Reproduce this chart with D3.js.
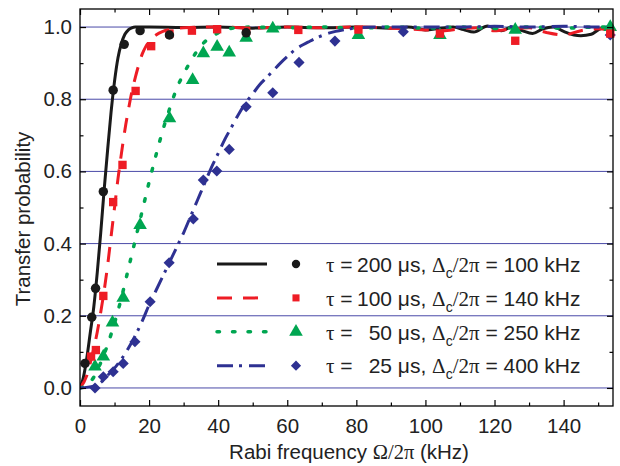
<!DOCTYPE html>
<html><head><meta charset="utf-8">
<script src="https://cdn.jsdelivr.net/npm/d3@7"></script>
<style>
body{margin:0;background:#fff;}
svg{display:block;font-family:"Liberation Sans",Arial,sans-serif;}
</style></head>
<body><svg id="c" width="620" height="466"></svg>
<script>
// ---- data ----
const xTicks = [0,20,40,60,80,100,120,140];
const xMinor = [10,30,50,70,90,110,130,150];
const yTicks = [0,0.2,0.4,0.6,0.8,1.0];
const yMinor = [0.1,0.3,0.5,0.7,0.9];

// measured points
const ptsX200 = [1.45,3.4,4.5,6.75,9.6,12.8,17.4,25.9,48.1];
const ptsY200 = [0.068,0.196,0.276,0.544,0.825,0.952,0.99,0.978,0.984];
const ptsX100 = [3.2,4.6,6.75,9.6,12.3,16.1,20.6,25.9,32.4,39.7,48.1,63.2,80.6,104.2,126,153.5];
const ptsY100 = [0.087,0.105,0.255,0.515,0.618,0.823,0.947,0.982,0.99,0.994,0.99,0.992,0.993,0.982,0.962,0.982];
const ptsX50 = [4.35,6.75,9.4,12.5,17.4,25.9,32.6,35.7,39.7,43.2,48.1,55.8,80.6,104.2,126,153.5];
const ptsY50 = [0.059,0.087,0.181,0.25,0.451,0.747,0.853,0.927,0.945,0.929,0.97,0.996,0.978,0.978,0.992,1.0];
const ptsX25 = [4.35,6.75,9.6,12.5,15.9,20.3,25.8,32.8,35.7,39.6,43.2,48.1,55.8,63.4,73.8,93.6,153.5];
const ptsY25 = [0.0,0.031,0.045,0.068,0.128,0.239,0.347,0.468,0.576,0.601,0.661,0.779,0.818,0.902,0.961,0.987,0.978];

// theory curves
const curveX200 = [0,1,2,3,4,5,6,7,8,9,10,11,12,13,14,15,16,20,30,40,50,60,70,80,90,95,100,104,108,111,114,118,122,125,128,131,134,137,140,143,145,148,151,154.3];
const curveY200 = [0,0.03,0.085,0.155,0.225,0.32,0.43,0.55,0.66,0.765,0.85,0.915,0.955,0.98,0.992,0.998,1.0,1.0,0.999,1.0,0.997,1.0,0.998,1.0,0.997,1.0,0.992,0.996,1.0,0.993,0.986,1.003,0.99,1.0,0.99,0.982,0.995,1.0,0.988,0.978,0.976,0.98,0.996,0.99];
const curveX100 = [0,2,3,4,5,6,7,8,9,10,11,12,13,14,15,16,17,18,19,20,22,24,26,30,35,40,50,60,70,80,90,100,105,110,115,120,125,130,135,140,145,150,154.3];
const curveY100 = [0,0.035,0.07,0.11,0.155,0.21,0.27,0.34,0.42,0.5,0.58,0.65,0.715,0.77,0.82,0.86,0.895,0.925,0.945,0.96,0.978,0.988,0.993,0.998,1.0,1.0,0.998,1.0,0.998,1.0,0.997,0.992,0.99,0.995,0.998,0.99,0.995,0.998,0.985,0.978,0.99,0.995,0.99];
const curveX50 = [0,2,4,6,8,10,12,14,16,18,20,22,24,26,28,30,32,34,36,38,40,42,45,50,60,70,80,90,100,110,120,130,140,150,154.3];
const curveY50 = [0,0.008,0.03,0.07,0.12,0.18,0.25,0.33,0.41,0.49,0.57,0.645,0.715,0.775,0.83,0.87,0.905,0.935,0.958,0.973,0.984,0.992,0.998,1.0,0.998,1.0,0.997,1.0,0.997,1.0,0.996,1.0,0.997,1.0,1.0];
const curveX25 = [0,4,6,8,10,12,14,16,18,20,22,24,26,28,30,32,34,36,38,40,42,44,46,48,50,52,54,56,58,60,62,64,66,68,70,72,74,76,80,85,90,100,110,120,130,140,150,154.3];
const curveY25 = [0,0.005,0.015,0.035,0.055,0.08,0.11,0.145,0.185,0.23,0.27,0.31,0.35,0.39,0.43,0.475,0.52,0.565,0.61,0.65,0.69,0.725,0.76,0.79,0.815,0.84,0.86,0.88,0.9,0.918,0.935,0.948,0.958,0.968,0.976,0.983,0.988,0.992,0.997,1.0,1.0,1.0,1.0,1.002,1.0,1.002,1.0,1.0];

const legendTau = ["200","100","50","25"];
const legendDelta = ["100","140","250","400"];

// ---- drawing ----
const svg = d3.select("#c");
const L = 80, R = 613, T = 9, B = 406;
const x = d3.scaleLinear().domain([0,154.3]).range([L,R]);
const y = d3.scaleLinear().domain([-0.05,1.05]).range([B,T]);

const colors = ["#1a1a1a","#ee1c25","#00a651","#2e3192"];
const dashes = [null,"15,11","2.5,13","16,6,3,7"];
const widths = [3,3,3.5,3];
const shapes = [d3.symbolCircle,d3.symbolSquare,d3.symbolTriangle,d3.symbolSquare];
const rots = [0,0,0,45];
const sizes = [70,70,80,62];

// gridlines
svg.append("g").selectAll("line").data(yTicks).join("line")
  .attr("x1",L).attr("x2",R).attr("y1",d=>y(d)).attr("y2",d=>y(d))
  .attr("stroke","#4a4aa8").attr("stroke-width",1);

svg.append("clipPath").attr("id","clip").append("rect")
  .attr("x",L).attr("y",T).attr("width",R-L).attr("height",B-T);

const curves = [[curveX200,curveY200],[curveX100,curveY100],[curveX50,curveY50],[curveX25,curveY25]];
const line = d3.line().x(d=>x(d[0])).y(d=>y(d[1])).curve(d3.curveMonotoneX);
const gC = svg.append("g").attr("clip-path","url(#clip)");
curves.forEach((c,i)=>{
  const data = c[0].map((v,k)=>[v,c[1][k]]);
  gC.append("path").datum(data).attr("d",line).attr("fill","none")
    .attr("stroke",colors[i]).attr("stroke-width",widths[i])
    .attr("stroke-dasharray",dashes[i]).attr("stroke-linecap",i===2?"round":"butt");
});

const pts = [[ptsX200,ptsY200],[ptsX100,ptsY100],[ptsX50,ptsY50],[ptsX25,ptsY25]];
const drawOrder = [3,2,1,0];
drawOrder.forEach(i=>{
  const p = pts[i];
  const data = p[0].map((v,k)=>[v,p[1][k]]);
  svg.append("g").selectAll("path").data(data).join("path")
    .attr("transform",d=>`translate(${x(d[0])},${y(d[1])}) rotate(${rots[i]})`)
    .attr("d",d3.symbol().type(shapes[i]).size(sizes[i]))
    .attr("fill",colors[i]);
});

// axes
const fmt = d3.format(".1f");
svg.append("g").attr("transform",`translate(0,${B})`)
  .call(d3.axisBottom(x).tickValues(xTicks).tickSize(-6).tickPadding(12).tickFormat(d3.format("d")));
svg.append("g").attr("transform",`translate(0,${B})`)
  .call(d3.axisBottom(x).tickValues(xMinor).tickSize(-3.5).tickFormat(""));
svg.append("g").attr("transform",`translate(0,${T})`)
  .call(d3.axisTop(x).tickValues(xTicks).tickSize(-6).tickFormat(""));
svg.append("g").attr("transform",`translate(0,${T})`)
  .call(d3.axisTop(x).tickValues(xMinor).tickSize(-3.5).tickFormat(""));
svg.append("g").attr("transform",`translate(${L},0)`)
  .call(d3.axisLeft(y).tickValues(yTicks).tickSize(-6).tickPadding(8).tickFormat(fmt));
svg.append("g").attr("transform",`translate(${L},0)`)
  .call(d3.axisLeft(y).tickValues(yMinor).tickSize(-3.5).tickFormat(""));
svg.append("g").attr("transform",`translate(${R},0)`)
  .call(d3.axisRight(y).tickValues(yTicks).tickSize(-6).tickFormat(""));
svg.append("g").attr("transform",`translate(${R},0)`)
  .call(d3.axisRight(y).tickValues(yMinor).tickSize(-3.5).tickFormat(""));
svg.selectAll(".domain").remove();
svg.selectAll(".tick line").attr("stroke","#000").attr("stroke-width",1.2);
svg.selectAll(".tick text").attr("font-size",20.5).attr("fill","#222")
  .attr("font-family","'Liberation Sans',Arial,sans-serif");

svg.append("rect").attr("x",L).attr("y",T).attr("width",R-L).attr("height",B-T)
  .attr("fill","none").attr("stroke","#000").attr("stroke-width",1.3);

// axis titles
const xt = svg.append("text").attr("x",349).attr("y",459).attr("text-anchor","middle")
  .attr("font-size",20.5).attr("fill","#222");
xt.append("tspan").text("Rabi frequency ");
xt.append("tspan").attr("font-family","'Liberation Serif',serif").text("Ω/2π");
xt.append("tspan").text(" (kHz)");

svg.append("text").attr("transform","translate(29.5,219) rotate(-90)")
  .attr("text-anchor","middle").attr("font-size",20.5).attr("fill","#222")
  .text("Transfer probability");

// legend
const lg = svg.append("g");
const lsizes = [55,50,80,52];
legendTau.forEach((tau,i)=>{
  const cy = 264 + i*33.9;
  lg.append("line").attr("x1",217).attr("x2",267).attr("y1",cy).attr("y2",cy)
    .attr("stroke",colors[i]).attr("stroke-width",widths[i])
    .attr("stroke-dasharray",dashes[i]).attr("stroke-linecap",i===2?"round":"butt");
  lg.append("path").attr("transform",`translate(296,${cy}) rotate(${rots[i]})`)
    .attr("d",d3.symbol().type(shapes[i]).size(lsizes[i])).attr("fill",colors[i]);
  const by = cy + 7.7;
  const t1 = lg.append("text").attr("x",326).attr("y",by).attr("font-size",21).attr("fill","#222");
  t1.append("tspan").attr("font-family","'Liberation Serif',serif").text("τ");
  t1.append("tspan").text(" =");
  lg.append("text").attr("x",392).attr("y",by).attr("font-size",21).attr("fill","#222")
    .attr("text-anchor","end").text(tau);
  const t2 = lg.append("text").attr("x",392).attr("y",by).attr("font-size",21).attr("fill","#222")
    .attr("xml:space","preserve");
  t2.append("tspan").text(" μs, ");
  t2.append("tspan").attr("font-family","'Liberation Serif',serif").text("Δ");
  t2.append("tspan").attr("font-size",14).attr("dy",6).text("c");
  t2.append("tspan").attr("dy",-6).attr("font-family","'Liberation Serif',serif").text("/2π");
  t2.append("tspan").text(" = " + legendDelta[i] + " kHz");
});
</script></body></html>
